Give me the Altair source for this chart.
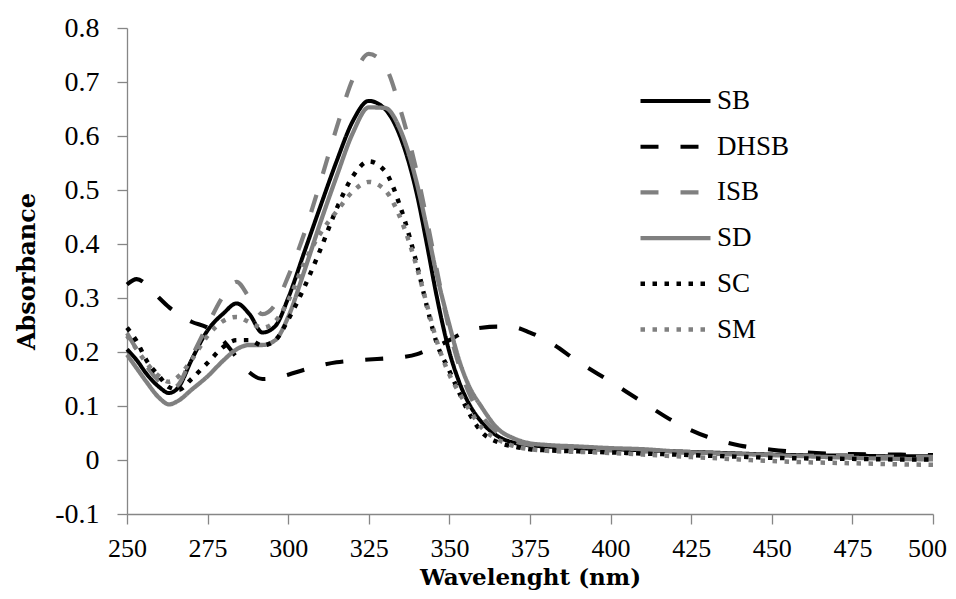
import altair as alt
import pandas as pd

WAVELENGTH = [250, 253, 256, 260, 263, 266, 270, 275, 280, 284, 288, 292, 296, 300,
              305, 310, 315, 320, 325, 330, 335, 340, 343, 346, 350, 353, 356, 360,
              365, 370, 375, 380, 390, 400, 410, 420, 430, 440, 450, 460, 475, 490, 500]

SB = [0.205, 0.185, 0.160, 0.135, 0.124, 0.135, 0.185, 0.240, 0.272, 0.290, 0.270, 0.236, 0.248, 0.300,
      0.385, 0.470, 0.553, 0.627, 0.665, 0.650, 0.595, 0.490, 0.400, 0.305, 0.200, 0.145, 0.105, 0.070,
      0.044, 0.032, 0.027, 0.025, 0.022, 0.020, 0.018, 0.016, 0.014, 0.012, 0.010, 0.009, 0.008, 0.007, 0.007]

DHSB = [0.325, 0.335, 0.325, 0.300, 0.283, 0.270, 0.256, 0.245, 0.220, 0.190, 0.162, 0.150, 0.152, 0.158,
        0.167, 0.175, 0.181, 0.184, 0.186, 0.188, 0.190, 0.196, 0.203, 0.210, 0.222, 0.232, 0.240, 0.245,
        0.247, 0.246, 0.236, 0.222, 0.182, 0.145, 0.107, 0.070, 0.043, 0.027, 0.019, 0.014, 0.011, 0.010, 0.009]

ISB = [0.235, 0.205, 0.175, 0.145, 0.130, 0.140, 0.190, 0.250, 0.305, 0.330, 0.300, 0.270, 0.288, 0.340,
       0.420, 0.515, 0.615, 0.705, 0.752, 0.730, 0.645, 0.530, 0.445, 0.355, 0.240, 0.175, 0.125, 0.082,
       0.050, 0.035, 0.028, 0.025, 0.021, 0.018, 0.016, 0.014, 0.012, 0.010, 0.009, 0.008, 0.007, 0.006, 0.006]

SD = [0.195, 0.170, 0.145, 0.115, 0.103, 0.110, 0.130, 0.155, 0.185, 0.205, 0.213, 0.213, 0.222, 0.265,
      0.350, 0.440, 0.525, 0.605, 0.653, 0.652, 0.608, 0.510, 0.430, 0.345, 0.250, 0.185, 0.138, 0.098,
      0.058, 0.040, 0.031, 0.028, 0.025, 0.022, 0.020, 0.016, 0.013, 0.011, 0.009, 0.007, 0.004, 0.002, 0.001]

SC = [0.245, 0.220, 0.185, 0.155, 0.135, 0.130, 0.150, 0.180, 0.210, 0.222, 0.222, 0.212, 0.222, 0.260,
      0.320, 0.390, 0.465, 0.525, 0.553, 0.535, 0.465, 0.360, 0.285, 0.218, 0.165, 0.125, 0.088, 0.052,
      0.033, 0.025, 0.020, 0.018, 0.016, 0.014, 0.012, 0.010, 0.008, 0.006, 0.004, 0.003, 0.002, 0.001, 0.001]

SM = [0.230, 0.205, 0.180, 0.155, 0.145, 0.155, 0.185, 0.230, 0.258, 0.265, 0.255, 0.245, 0.257, 0.295,
      0.365, 0.420, 0.460, 0.497, 0.515, 0.500, 0.445, 0.355, 0.288, 0.222, 0.158, 0.125, 0.095, 0.060,
      0.038, 0.026, 0.020, 0.017, 0.015, 0.013, 0.010, 0.007, 0.004, 0.001, -0.002, -0.004, -0.006, -0.008, -0.009]

SERIES = ["SB", "DHSB", "ISB", "SD", "SC", "SM"]
VALUES = [SB, DHSB, ISB, SD, SC, SM]
COLORS = ["#000000", "#000000", "#808080", "#808080", "#000000", "#808080"]
DASHES = [[1, 0], [18, 22], [18, 22], [1, 0], [4.5, 7.5], [4.5, 7.5]]
WIDTHS = [4, 4.5, 4.5, 2.5, 4.5, 4.5]

X_TICKS = list(range(250, 501, 25))
Y_TICKS = [-0.1, 0.0, 0.1, 0.2, 0.3, 0.4, 0.5, 0.6, 0.7, 0.8]

rows = []
for name, vals in zip(SERIES, VALUES):
    for wl, a in zip(WAVELENGTH, vals):
        rows.append({"wavelength": wl, "absorbance": a, "series": name})
df = pd.DataFrame(rows)

FONT = "Liberation Serif"
TITLE_FONT = "DejaVu Serif"
AXIS_GRAY = "#868686"

legend = alt.Legend(
    title=None,
    orient="none",
    legendX=511,
    legendY=58,
    symbolType="stroke",
    symbolSize=4900,
    clipHeight=30,
    rowPadding=15.7,
    labelFont=FONT,
    labelFontSize=27,
    labelColor="#000000",
    labelOffset=4,
    padding=0,
)

chart = alt.Chart(df).mark_line(interpolate="monotone", strokeCap="butt").encode(
    x=alt.X(
        "wavelength:Q",
        scale=alt.Scale(domain=[250, 500], nice=False, zero=False),
        axis=alt.Axis(
            values=X_TICKS,
            title="Wavelenght (nm)",
            titleX=403,
            titleY=70,
            titleFontSize=23,
            titleBaseline="alphabetic",
            labelFontSize=26,
            labelPadding=11,
            labelFlush=False,
            labelOffset={"condition": {"test": "datum.value == 500", "value": -6}, "value": 0},
        ),
    ),
    y=alt.Y(
        "absorbance:Q",
        scale=alt.Scale(domain=[-0.1, 0.8], nice=False, zero=False),
        axis=alt.Axis(
            values=Y_TICKS,
            title="Absorbance",
            labelExpr="datum.value < -0.001 ? '-' + format(-datum.value, '.1~f') : format(abs(datum.value), '.1~f')",
            titleAngle=270,
            titleX=-100,
            titleY=243,
            titleAlign="center",
            titleBaseline="middle",
            labelPadding=18,
            labelFlush=False,
        ),
    ),
    color=alt.Color("series:N", scale=alt.Scale(domain=SERIES, range=COLORS), legend=legend),
    strokeDash=alt.StrokeDash("series:N", scale=alt.Scale(domain=SERIES, range=DASHES), legend=legend),
    strokeWidth=alt.StrokeWidth("series:N", scale=alt.Scale(domain=SERIES, range=WIDTHS), legend=legend),
).properties(
    width=806,
    height=486,
    padding={"left": 119, "top": 20, "right": 15, "bottom": 77},
    autosize=alt.AutoSizeParams(type="none"),
    background="#ffffff",
).configure_view(
    stroke=None
).configure_axis(
    grid=False,
    domainColor=AXIS_GRAY,
    domainWidth=1.3,
    tickColor=AXIS_GRAY,
    tickWidth=1.3,
    tickSize=10,
    labelFont=FONT,
    labelFontSize=28,
    labelColor="#000000",
    titleFont=TITLE_FONT,
    titleFontSize=24,
    titleFontWeight="bold",
    titleColor="#000000",
)

chart.save("out.html", embed_options={"renderer": "svg", "actions": False})
